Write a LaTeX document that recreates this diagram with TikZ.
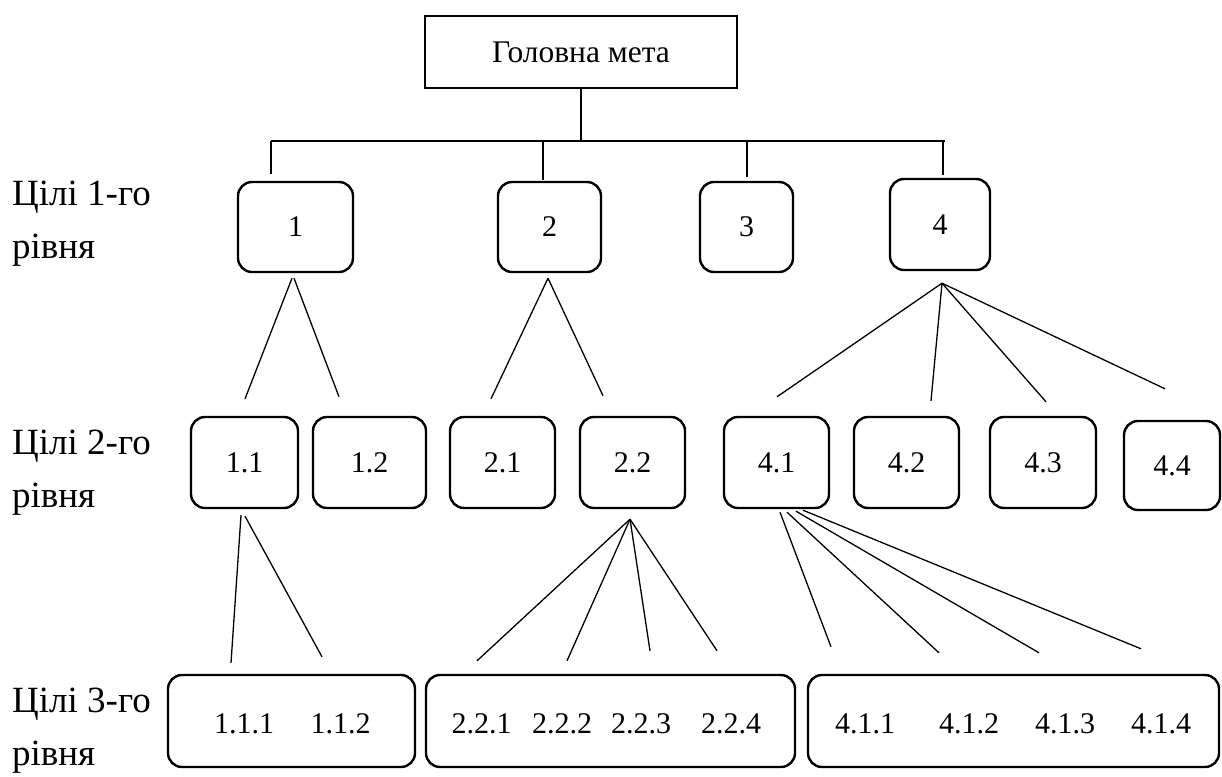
\documentclass[tikz,border=0pt]{standalone}
\usepackage{fontspec}
\setmainfont{Liberation Serif}
\newfontfamily\tnr{Liberation Serif}
\begin{document}
\begin{tikzpicture}[x=1pt,y=-1pt,
  box/.style={draw, line width=2.4pt, rounded corners=14pt, inner sep=0pt, font=\tnr\fontsize{30}{34}\selectfont},
  topbox/.style={draw, line width=2.4pt, inner sep=0pt, font=\tnr\fontsize{31.5}{36}\selectfont},
  conn/.style={line width=1.3pt},
  lbl/.style={anchor=base west, inner sep=0pt, font=\tnr\fontsize{37}{44}\selectfont},
  txt/.style={anchor=base, inner sep=0pt, font=\tnr\fontsize{30}{34}\selectfont}]
\useasboundingbox (0,0) rectangle (1222,776);

% top
\node[topbox, minimum width=312pt, minimum height=72pt] (top) at (581,52) {Головна мета};

% level 1
\node[box, minimum width=115pt, minimum height=90pt] (l1) at (295.5,227) {1};
\node[box, minimum width=103pt, minimum height=90pt] (l2) at (549.5,227) {2};
\node[box, minimum width=93pt, minimum height=90pt] (l3) at (746.5,227) {3};
\node[box, minimum width=100pt, minimum height=91pt] (l4) at (940,224.5) {4};

% level 2
\node[box, minimum width=107pt, minimum height=91pt] (l11) at (244.5,462.5) {1.1};
\node[box, minimum width=113pt, minimum height=91pt] (l12) at (369.5,462.5) {1.2};
\node[box, minimum width=105pt, minimum height=91pt] (l21) at (502.5,462.5) {2.1};
\node[box, minimum width=105pt, minimum height=91pt] (l22) at (632.5,462.5) {2.2};
\node[box, minimum width=105pt, minimum height=91pt] (l41) at (776.5,462.5) {4.1};
\node[box, minimum width=105pt, minimum height=91pt] (l42) at (906.5,462.5) {4.2};
\node[box, minimum width=106pt, minimum height=91pt] (l43) at (1043,462.5) {4.3};
\node[box, minimum width=96pt, minimum height=89pt] (l44) at (1172,465.5) {4.4};

% level 3
\node[box, minimum width=247pt, minimum height=92pt] (b11) at (291.5,721) {};
\node[box, minimum width=369pt, minimum height=92pt] (b22) at (610.5,721) {};
\node[box, minimum width=411pt, minimum height=92pt] (b41) at (1013.5,721) {};
\node[txt] (t111) at (244,733) {1.1.1};
\node[txt] (t112) at (340.5,733) {1.1.2};
\node[txt] (t221) at (481.5,733) {2.2.1};
\node[txt] (t222) at (562,733) {2.2.2};
\node[txt] (t223) at (641,733) {2.2.3};
\node[txt] (t224) at (731,733) {2.2.4};
\node[txt] (t411) at (865,733) {4.1.1};
\node[txt] (t412) at (969,733) {4.1.2};
\node[txt] (t413) at (1065,733) {4.1.3};
\node[txt] (t414) at (1161,733) {4.1.4};

% left labels
\node[lbl] (a1) at (12,205) {Цілі 1-го};
\node[lbl] (a1b) at (12,258) {рівня};
\node[lbl] (a2) at (12,454) {Цілі 2-го};
\node[lbl] (a2b) at (12,507) {рівня};
\node[lbl] (a3) at (12,712) {Цілі 3-го};
\node[lbl] (a3b) at (12,765) {рівня};

% bus
\coordinate (busL) at (271,141);
\coordinate (busR) at (945,141);
\coordinate (d1) at ([xshift=-24.5pt,yshift=7pt]l1.north);
\coordinate (d2) at ([xshift=-6.5pt,yshift=1pt]l2.north);
\coordinate (d3) at ([xshift=0.5pt,yshift=4pt]l3.north);
\coordinate (d4) at ([xshift=3pt,yshift=3pt]l4.north);
\draw[conn] (top.south) -- (top.south |- busL);
\draw[conn] (busL) -- (busR);
\draw[conn] (d1 |- busL) -- (d1);
\draw[conn] (d2 |- busL) -- (d2);
\draw[conn] (d3 |- busL) -- (d3);
\draw[conn] (d4 |- busL) -- (d4);

% level 1 -> level 2
\draw[conn] ([xshift=-3.5pt,yshift=-5pt]l1.south) -- ([xshift=0.5pt,yshift=17pt]l11.north);
\draw[conn] ([xshift=-1.5pt,yshift=-5pt]l1.south) -- ([xshift=-30.5pt,yshift=19pt]l12.north);
\draw[conn] ([xshift=-1.5pt,yshift=-5pt]l2.south) -- ([xshift=-11.5pt,yshift=17pt]l21.north);
\draw[conn] ([xshift=-1.5pt,yshift=-5pt]l2.south) -- ([xshift=-29.5pt,yshift=20pt]l22.north);
\draw[conn] ([xshift=2pt,yshift=-12pt]l4.south) -- ([xshift=0.5pt,yshift=19pt]l41.north);
\draw[conn] ([xshift=2pt,yshift=-12pt]l4.south) -- ([xshift=24.5pt,yshift=15pt]l42.north);
\draw[conn] ([xshift=2pt,yshift=-12pt]l4.south) -- ([xshift=3pt,yshift=14pt]l43.north);
\draw[conn] ([xshift=2pt,yshift=-12pt]l4.south) -- ([xshift=-7pt,yshift=31pt]l44.north);

% level 2 -> level 3
\draw[conn] ([xshift=-3.5pt,yshift=-6pt]l11.south) -- ([xshift=-60.5pt,yshift=11pt]b11.north);
\draw[conn] ([xshift=0.5pt,yshift=-7pt]l11.south) -- ([xshift=30.5pt,yshift=17pt]b11.north);
\draw[conn] ([xshift=-2.5pt,yshift=-10pt]l22.south) -- ([xshift=-133.5pt,yshift=13pt]b22.north);
\draw[conn] ([xshift=-2.5pt,yshift=-10pt]l22.south) -- ([xshift=-43.5pt,yshift=13pt]b22.north);
\draw[conn] ([xshift=-2.5pt,yshift=-10pt]l22.south) -- ([xshift=39.5pt,yshift=23pt]b22.north);
\draw[conn] ([xshift=-2.5pt,yshift=-10pt]l22.south) -- ([xshift=106.5pt,yshift=23pt]b22.north);
\draw[conn] ([xshift=3.5pt,yshift=-3pt]l41.south) -- ([xshift=-182.5pt,yshift=27pt]b41.north);
\draw[conn] ([xshift=10.5pt,yshift=-3pt]l41.south) -- ([xshift=-74.5pt,yshift=21pt]b41.north);
\draw[conn] ([xshift=19.5pt,yshift=-2pt]l41.south) -- ([xshift=25.5pt,yshift=21pt]b41.north);
\draw[conn] ([xshift=26.5pt,yshift=-1pt]l41.south) -- ([xshift=127.5pt,yshift=25pt]b41.north);
\end{tikzpicture}
\end{document}
